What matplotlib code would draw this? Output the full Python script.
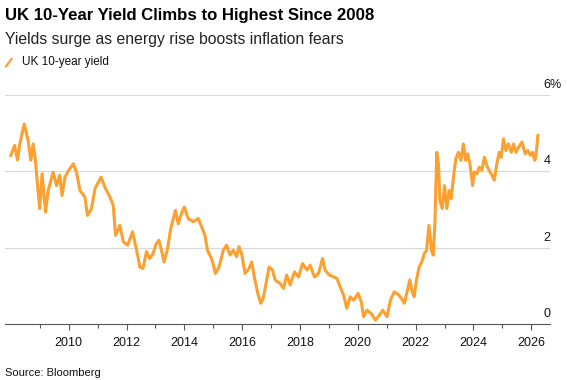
import matplotlib
matplotlib.use("Agg")
import matplotlib.pyplot as plt
from matplotlib.lines import Line2D

# UK 10-year gilt yield (decimal year, percent)
years = [
    2008.00, 2008.13, 2008.23, 2008.31, 2008.46, 2008.60, 2008.69, 2008.77, 2008.85, 2008.94,
    2009.00, 2009.08, 2009.20, 2009.29, 2009.46, 2009.58, 2009.69, 2009.77, 2009.87, 2010.00,
    2010.16, 2010.27, 2010.39, 2010.56, 2010.65, 2010.79, 2010.91, 2011.12, 2011.25, 2011.43,
    2011.54, 2011.62, 2011.77, 2011.89, 2012.04, 2012.21, 2012.30, 2012.40, 2012.46, 2012.57,
    2012.69, 2012.80, 2012.92, 2013.03, 2013.12, 2013.21, 2013.30, 2013.42, 2013.53, 2013.69,
    2013.79, 2013.90, 2014.00, 2014.13, 2014.31, 2014.48, 2014.60, 2014.71, 2014.80, 2014.94,
    2015.08, 2015.20, 2015.35, 2015.46, 2015.58, 2015.69, 2015.81, 2015.89, 2015.98, 2016.10,
    2016.24, 2016.33, 2016.42, 2016.54, 2016.64, 2016.73, 2016.85, 2016.93, 2017.05, 2017.14,
    2017.31, 2017.43, 2017.54, 2017.66, 2017.81, 2017.95, 2018.09, 2018.24, 2018.35, 2018.50,
    2018.64, 2018.78, 2018.87, 2019.01, 2019.16, 2019.28, 2019.39, 2019.51, 2019.62, 2019.74,
    2019.86, 2020.01, 2020.12, 2020.20, 2020.32, 2020.47, 2020.61, 2020.75, 2020.86, 2021.01,
    2021.13, 2021.26, 2021.40, 2021.51, 2021.61, 2021.72, 2021.80, 2021.88, 2021.95, 2022.03,
    2022.12, 2022.21, 2022.30, 2022.38, 2022.46, 2022.55, 2022.61, 2022.67, 2022.73, 2022.79,
    2022.84, 2022.92, 2023.00, 2023.08, 2023.16, 2023.23, 2023.31, 2023.39, 2023.48, 2023.57,
    2023.65, 2023.73, 2023.80, 2023.88, 2023.97, 2024.03, 2024.12, 2024.20, 2024.29, 2024.38,
    2024.46, 2024.54, 2024.64, 2024.72, 2024.81, 2024.89, 2024.96, 2025.04, 2025.12, 2025.21,
    2025.31, 2025.39, 2025.47, 2025.56, 2025.68, 2025.79, 2025.88, 2025.97, 2026.05, 2026.12,
    2026.16, 2026.23,
]
yields = [
    4.42, 4.68, 4.30, 4.72, 5.24, 4.80, 4.29, 4.72, 4.29, 3.50,
    3.03, 3.94, 2.94, 3.50, 3.98, 3.63, 3.90, 3.37, 3.85, 4.03,
    4.20, 3.98, 3.50, 3.33, 2.85, 3.03, 3.55, 3.85, 3.59, 3.33,
    3.11, 2.33, 2.59, 2.16, 2.07, 2.42, 2.10, 1.75, 1.50, 1.46,
    1.90, 1.72, 1.85, 2.11, 2.20, 1.94, 1.63, 1.98, 2.50, 2.98,
    2.63, 2.90, 3.07, 2.77, 2.68, 2.77, 2.55, 2.33, 1.94, 1.72,
    1.33, 1.50, 1.94, 2.07, 1.81, 1.94, 1.77, 2.03, 1.85, 1.33,
    1.46, 1.63, 1.24, 0.81, 0.55, 0.68, 1.16, 1.50, 1.42, 1.16,
    1.07, 0.94, 1.29, 1.03, 1.37, 1.24, 1.59, 1.42, 1.55, 1.24,
    1.33, 1.72, 1.42, 1.29, 1.24, 1.20, 0.98, 0.76, 0.42, 0.72,
    0.63, 0.81, 0.59, 0.20, 0.37, 0.28, 0.11, 0.24, 0.37, 0.20,
    0.63, 0.85, 0.78, 0.68, 0.55, 0.90, 1.16, 0.85, 0.72, 1.16,
    1.50, 1.63, 1.85, 1.94, 2.59, 1.94, 1.81, 2.72, 4.50, 4.20,
    3.24, 3.03, 3.63, 3.03, 3.50, 3.29, 3.85, 4.33, 4.50, 4.29,
    4.72, 4.29, 4.46, 4.20, 3.63, 3.98, 3.94, 4.11, 4.03, 4.37,
    4.16, 4.03, 3.90, 3.77, 4.20, 4.50, 4.37, 4.85, 4.55, 4.72,
    4.50, 4.72, 4.50, 4.63, 4.77, 4.46, 4.55, 4.42, 4.50, 4.29,
    4.37, 4.94,
]
year_ticks = list(range(2010, 2027, 2))
minor_ticks = list(range(2009, 2027, 2))
pct_ticks = [0, 2, 4, 6]
pct_labels = ["0", "2", "4", "6%"]

W, H = 567, 380
orange = "#fca030"
plt.rcParams["font.family"] = ["Liberation Sans", "DejaVu Sans"]

fig = plt.figure(figsize=(W / 100, H / 100), dpi=100)
ax = fig.add_axes([5 / W, 1 - 324.3 / H, 545 / W, (324.3 - 95) / H])

ax.plot(years, yields, color=orange, linewidth=2.2, solid_joinstyle="round")

ax.set_xlim(2007.797, 2026.648)
ax.set_ylim(0, 6)
ax.set_xticks(year_ticks)
ax.set_xticklabels([str(y) for y in year_ticks], fontsize=9, color="#111111")
ax.set_xticks(minor_ticks, minor=True)
ax.tick_params(axis="x", which="major", length=4, width=0.8, color="#555555", pad=5)
ax.tick_params(axis="x", which="minor", length=3, width=0.8, color="#555555")
ax.set_yticks([])
for v in pct_ticks[1:]:
    ax.axhline(v, color="#d9d9d9", linewidth=0.8, zorder=0)
for v, lab in zip(pct_ticks, pct_labels):
    ax.annotate(lab, xy=(1, v), xycoords=("axes fraction", "data"),
                xytext=(-6.5, 4), textcoords="offset pixels",
                ha="left", va="bottom", fontsize=9, color="#111111")

for s in ["top", "left", "right"]:
    ax.spines[s].set_visible(False)
ax.spines["bottom"].set_color("#555555")
ax.spines["bottom"].set_linewidth(0.8)

fig.text(5 / W, 1 - 20 / H, "UK 10-Year Yield Climbs to Highest Since 2008",
         fontsize=12.1, fontweight="bold", color="#000000", va="baseline")
fig.text(5 / W, 1 - 44 / H, "Yields surge as energy rise boosts inflation fears",
         fontsize=11.3, color="#222222", va="baseline")
fig.add_artist(Line2D([6 / W, 11.5 / W], [1 - 66.5 / H, 1 - 59 / H],
                      color=orange, linewidth=1.6, transform=fig.transFigure))
fig.text(22 / W, 1 - 65 / H, "UK 10-year yield", fontsize=8.5, color="#111111", va="baseline")
fig.text(5 / W, 1 - 376 / H, "Source: Bloomberg", fontsize=8, color="#111111", va="baseline")

fig.savefig("out.png", dpi=100)
